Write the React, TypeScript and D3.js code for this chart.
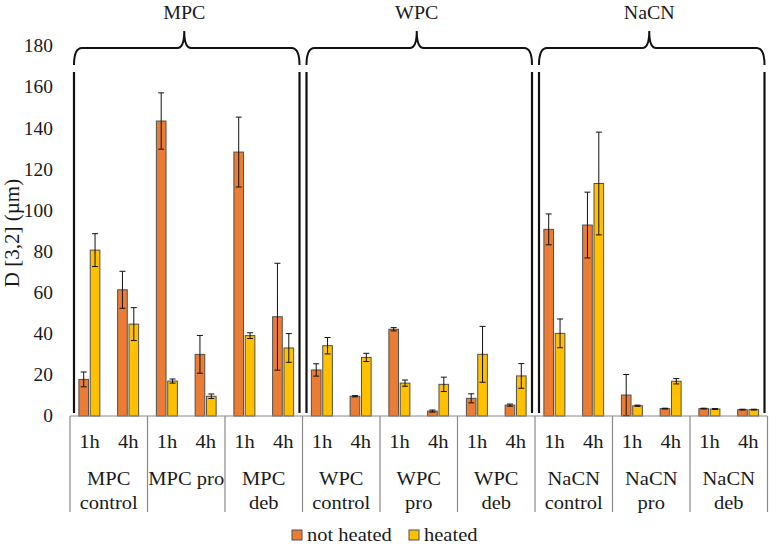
import React from 'react';
import * as d3 from 'd3';

const W = 772;
const H = 548;

const categories = ['MPC control', 'MPC pro', 'MPC deb', 'WPC control', 'WPC pro', 'WPC deb', 'NaCN control', 'NaCN pro', 'NaCN deb'];
const categoryLines = [['MPC', 'control'], ['MPC pro'], ['MPC', 'deb'], ['WPC', 'control'], ['WPC', 'pro'], ['WPC', 'deb'], ['NaCN', 'control'], ['NaCN', 'pro'], ['NaCN', 'deb']];
const hours = ['1h', '4h'];
const groups = ['MPC', 'WPC', 'NaCN'];
const series = ['not heated', 'heated'];
const seriesColors = ['#EB7C33', '#FFC000'];

// one value per category x hour, in order
const notHeated = [17.8, 61.4, 143.5, 30, 128.4, 48.3, 22.4, 9.6, 42.2, 2.4, 8.6, 5.3, 90.8, 92.9, 10.2, 3.6, 3.6, 3.1];
const notHeatedErr = [3.6, 9, 13.7, 9.2, 17, 26, 3, 0.3, 0.8, 0.5, 2.2, 0.5, 7.5, 16, 10, 0.2, 0.2, 0.2];
const heated = [80.7, 44.7, 17, 9.6, 39.1, 33.1, 34.2, 28.5, 16, 15.4, 30, 19.5, 40.2, 113.1, 5, 16.9, 3.4, 3.1];
const heatedErr = [8, 8, 1, 1.1, 1.4, 7, 4, 2, 1.5, 3.5, 13.6, 6, 7, 25, 0.3, 1.3, 0.2, 0.2];
const yTicks = [0, 20, 40, 60, 80, 100, 120, 140, 160, 180];

const FONT = 'Liberation Serif';
const SX = 1.08;

function T({ x, y, size = 19, anchor = 'middle', children }: any) {
  return (
    <text
      transform={`translate(${x},${y}) scale(${SX},1)`}
      style={{ fontFamily: FONT, fontSize: size }}
      textAnchor={anchor}
      fill="#1a1a1a"
    >
      {children}
    </text>
  );
}

export default function App() {
  const left = 70;
  const right = 767.5;
  const y = d3.scaleLinear().domain([0, 180]).range([416, 46]);
  const xCat = d3.scaleBand().domain(categories).range([left, right]);
  const xHour = d3.scaleBand().domain(hours).range([0, xCat.bandwidth()]);
  const xSer = d3.scaleBand().domain(series).range([-10.5, 10.5]).paddingInner(0.15);

  const rows = categories.flatMap((c, ci) =>
    hours.map((h, hi) => {
      const i = ci * 2 + hi;
      const cx = (xCat(c) as number) + (xHour(h) as number) + xHour.bandwidth() / 2;
      return { c, h, cx, vals: [notHeated[i], heated[i]], errs: [notHeatedErr[i], heatedErr[i]] };
    })
  );

  // bracket spans: three categories per group
  const spans = groups.map((g, gi) => {
    const a = xCat(categories[gi * 3]) as number;
    const b = (xCat(categories[gi * 3 + 2]) as number) + xCat.bandwidth();
    return { g, a: a + 4, b: b - 3, c: (a + b) / 2 - 2 };
  });

  const braceY = 48;
  const bracePath = (a: number, b: number, c: number) =>
    `M${a},65 Q${a},${braceY} ${a + 8},${braceY} L${c - 7},${braceY} Q${c},${braceY} ${c},${braceY - 17}` +
    ` Q${c},${braceY} ${c + 7},${braceY} L${b - 8},${braceY} Q${b},${braceY} ${b},65`;

  return (
    <svg width={W} height={H} style={{ position: 'absolute', left: 0, top: 0, background: '#fff' }}>
      {/* y tick labels */}
      {yTicks.map((t) => (
        <T key={t} x={53} y={y(t) + 6.3} size={18} anchor="end">
          {t}
        </T>
      ))}
      <text
        transform={`translate(19,233) rotate(-90) scale(1.05,1)`}
        style={{ fontFamily: FONT, fontSize: 20 }}
        textAnchor="middle"
        fill="#1a1a1a"
      >
        D [3,2] (µm)
      </text>

      {/* bars */}
      {rows.map((r, ri) =>
        series.map((s, si) => {
          const bx = r.cx + (xSer(s) as number);
          return (
            <rect
              key={`${ri}-${si}`}
              x={bx}
              y={y(r.vals[si])}
              width={xSer.bandwidth()}
              height={y(0) - y(r.vals[si])}
              fill={seriesColors[si]}
              stroke="#505050"
              strokeWidth={1}
            />
          );
        })
      )}

      {/* error bars */}
      {rows.map((r, ri) =>
        series.map((s, si) => {
          const mx = r.cx + (xSer(s) as number) + xSer.bandwidth() / 2;
          const lo = y(r.vals[si] - r.errs[si]);
          const hi = y(r.vals[si] + r.errs[si]);
          return (
            <g key={`e${ri}-${si}`} stroke="#111" strokeWidth={1}>
              <line x1={mx} x2={mx} y1={lo} y2={hi} />
              <line x1={mx - 3} x2={mx + 3} y1={hi} y2={hi} />
              <line x1={mx - 3} x2={mx + 3} y1={lo} y2={lo} />
            </g>
          );
        })
      )}

      {/* x axis */}
      <line x1={left} x2={right} y1={y(0)} y2={y(0)} stroke="#8a8a8a" strokeWidth={1.2} />
      {[...categories.map((c) => xCat(c) as number), right].map((bx, i) => (
        <line key={i} x1={bx} x2={bx} y1={y(0)} y2={512} stroke="#8a8a8a" strokeWidth={1.2} />
      ))}
      {rows.map((r, i) => (
        <T key={`h${i}`} x={r.cx} y={448}>
          {r.h}
        </T>
      ))}
      {categories.map((c, ci) =>
        categoryLines[ci].map((ln, li) => (
          <T key={`${c}${li}`} x={(xCat(c) as number) + xCat.bandwidth() / 2} y={485 + li * 24}>
            {ln}
          </T>
        ))
      )}

      {/* group brackets */}
      {spans.map((sp) => (
        <g key={sp.g}>
          <path d={bracePath(sp.a, sp.b, sp.c)} fill="none" stroke="#111" strokeWidth={2} />
          <line x1={sp.a} x2={sp.a} y1={72} y2={413} stroke="#111" strokeWidth={2.2} />
          <line x1={sp.b} x2={sp.b} y1={72} y2={413} stroke="#111" strokeWidth={2.2} />
          <T x={sp.c} y={18.5} size={18.5}>
            {sp.g}
          </T>
        </g>
      ))}

      {/* legend */}
      {series.map((s, si) => {
        const lx = si === 0 ? 292 : 409;
        return (
          <g key={s}>
            <rect x={lx} y={530} width={10} height={10} fill={seriesColors[si]} stroke="#505050" strokeWidth={1} />
            <T x={lx + 15} y={541} anchor="start">
              {s}
            </T>
          </g>
        );
      })}
    </svg>
  );
}
